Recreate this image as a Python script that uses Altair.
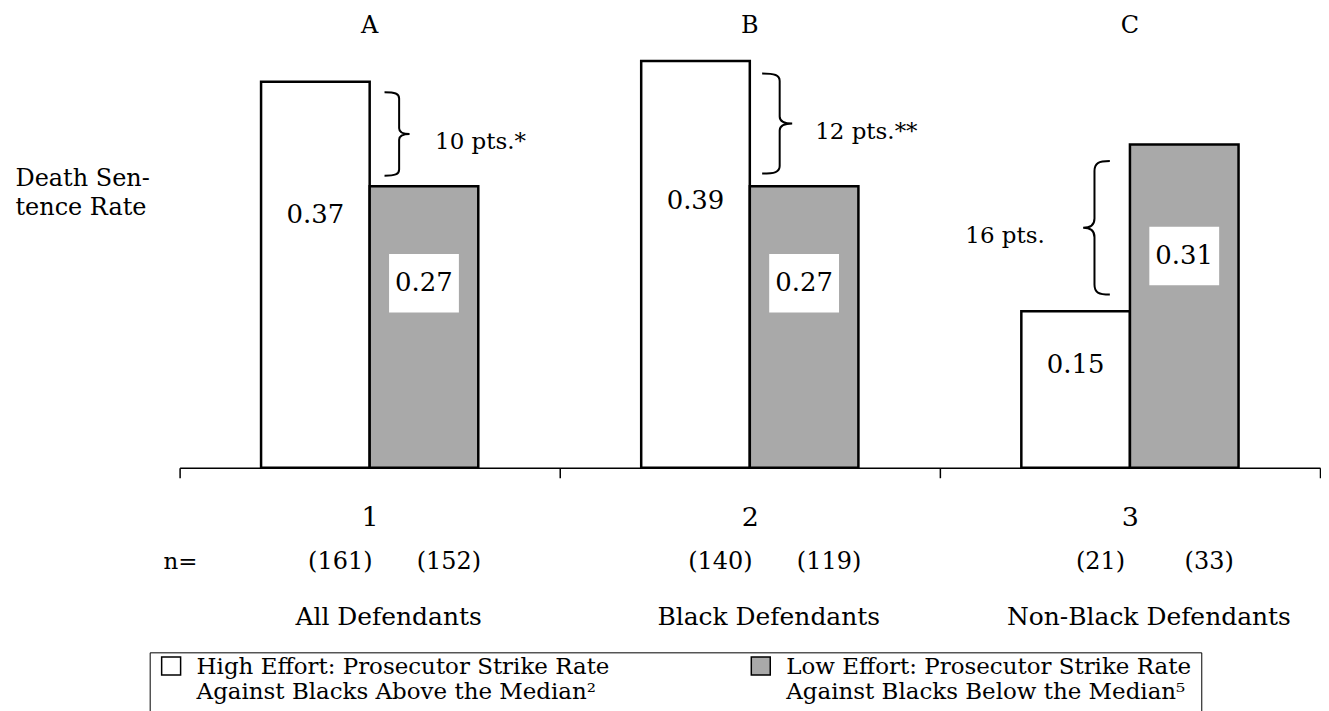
import json
import altair as alt
import pandas as pd

# ---------------- data ----------------
groups = ["1", "2", "3"]
letters = ["A", "B", "C"]
group_names = ["All Defendants", "Black Defendants", "Non-Black Defendants"]
high_rate = [0.37, 0.39, 0.15]
low_rate = [0.27, 0.27, 0.31]
high_n = [161, 140, 21]
low_n = [152, 119, 33]
diff_labels = ["10 pts.*", "12 pts.**", "16 pts."]
effort_keys = ["High", "Low"]
legend_high = ["High Effort: Prosecutor Strike Rate", "Against Blacks Above the Median\u00b2"]
legend_low = ["Low Effort: Prosecutor Strike Rate", "Against Blacks Below the Median\u2075"]
n_prefix = "n="

# ---------------- layout constants ----------------
FONT = "DejaVu Serif"
W, H = 1143, 460
YMAX = 0.44
PX = H / YMAX
GREY = "#a9a9a9"

bars = pd.DataFrame(
    [{"group": g, "effort": "High", "rate": r, "n": f"({n})"} for g, r, n in zip(groups, high_rate, high_n)]
    + [{"group": g, "effort": "Low", "rate": r, "n": f"({n})"} for g, r, n in zip(groups, low_rate, low_n)]
)
grp = pd.DataFrame({"group": groups, "letter": letters, "name": group_names})
braces = pd.DataFrame({
    "group": groups,
    "lo": [min(a, b) for a, b in zip(high_rate, low_rate)],
    "hi": [max(a, b) for a, b in zip(high_rate, low_rate)],
    "label": diff_labels,
    "side": ["right" if a > b else "left" for a, b in zip(high_rate, low_rate)],
})
nrow = pd.DataFrame({"group": [groups[0]], "t": [n_prefix]})

RIGHT_BRACE = ("M -0.3,-1 C -0.05,-1 0.05,-0.97 0.05,-0.85 L 0.05,-0.14 "
               "C 0.05,-0.04 0.15,0 0.3,0 C 0.15,0 0.05,0.04 0.05,0.14 L 0.05,0.85 "
               "C 0.05,0.97 -0.05,1 -0.3,1")
LEFT_BRACE = ("M 0.2,-1 C 0.03,-1 -0.03,-0.97 -0.03,-0.85 L -0.03,-0.14 "
              "C -0.03,-0.04 -0.1,0 -0.2,0 C -0.1,0 -0.03,0.04 -0.03,0.14 L -0.03,0.85 "
              "C -0.03,0.97 0.03,1 0.2,1")
BOX = "M -1,-0.84 L 1,-0.84 L 1,0.84 L -1,0.84 Z"
LEG_SYM = "M -1,-1.8 L 1,-1.8 L 1,0.1 L -1,0.1 Z"

xscale = alt.Scale(paddingInner=0, paddingOuter=0)
offscale = alt.Scale(domain=effort_keys, paddingInner=0, paddingOuter=0.75)
yscale = alt.Scale(domain=[0, YMAX], nice=False, zero=True)

label_expr = ("datum.value == 'High' ? " + json.dumps(legend_high) + " : " + json.dumps(legend_low))

x_axis = alt.Axis(title=None, labelAngle=0, labelFontSize=27, labelFont=FONT, labelColor="black",
                  labelPadding=40, labelBaseline="middle", domainColor="black", domainWidth=1.5,
                  tickColor="black", tickWidth=1.5, tickSize=10, tickBand="extent", grid=False)
y_axis = alt.Axis(title=["Death Sen-", "tence Rate"], titleAngle=0, titleAlign="left",
                  titleBaseline="alphabetic", titleX=-165, titleY=177, titleFontSize=24,
                  titleFont=FONT, titleFontWeight="normal", titleLineHeight=29, titleColor="black",
                  labels=False, ticks=False, domain=False, grid=False)


def X(**kw):
    return alt.X("group:N", scale=xscale, axis=x_axis, **kw)


def Y(field):
    return alt.Y(field, scale=yscale, axis=y_axis)


XO = alt.XOffset("effort:N", scale=offscale)

bar_layer = alt.Chart(bars).mark_bar(stroke="black", strokeWidth=2.5).encode(
    x=X(),
    xOffset=XO,
    y=Y("rate:Q"),
    fill=alt.Fill("effort:N", scale=alt.Scale(domain=effort_keys, range=["white", GREY]),
                  legend=alt.Legend(title=None, orient="none", legendX=-30, legendY=645,
                                    direction="horizontal", columns=2, columnPadding=139,
                                    symbolType=LEG_SYM, symbolSize=361, symbolStrokeColor="black",
                                    symbolStrokeWidth=1.5, labelFont=FONT, labelFontSize=23,
                                    labelBaseline="alphabetic", labelOffset=14,
                                    labelLimit=1000, labelColor="black", strokeColor="black",
                                    padding=10, labelExpr=label_expr)),
)

label_base = alt.Chart(bars).transform_calculate(pos="datum.rate * 0.655")

box_layer = label_base.transform_filter("datum.effort == 'Low'").mark_point(
    shape=BOX, size=4900, filled=True, color="white", opacity=1, strokeWidth=0
).encode(x=X(), xOffset=XO, y=Y("pos:Q"))

value_layer = label_base.mark_text(font=FONT, fontSize=26, color="black", baseline="middle").encode(
    x=X(), xOffset=XO, y=Y("pos:Q"),
    text=alt.Text("rate:Q", format=".2f"),
)

n_layer = alt.Chart(bars).mark_text(font=FONT, fontSize=24, color="black", baseline="middle", dx=25).encode(
    x=X(), xOffset=XO, y=alt.value(554), text="n:N",
)

nprefix_layer = alt.Chart(nrow).mark_text(font=FONT, fontSize=23, color="black", baseline="middle",
                                          align="right", dx=18).encode(
    x=X(bandPosition=0), y=alt.value(554), text="t:N",
)

letter_layer = alt.Chart(grp).mark_text(font=FONT, fontSize=24, color="black", baseline="middle").encode(
    x=X(), y=alt.value(17), text="letter:N",
)

name_layer = alt.Chart(grp).mark_text(font=FONT, fontSize=25, color="black", baseline="middle", dx=19).encode(
    x=X(), y=alt.value(610), text="name:N",
)

brace_base = alt.Chart(braces).transform_calculate(
    mid="(datum.hi + datum.lo) / 2",
    sz=f"pow((datum.hi - datum.lo) * {PX} * 0.8, 2)",
)

rb = brace_base.transform_filter("datum.side == 'right'")
lb = brace_base.transform_filter("datum.side == 'left'")

rbrace = rb.mark_point(shape=RIGHT_BRACE, filled=False, stroke="black", strokeWidth=2, opacity=1).encode(
    x=X(bandPosition=0.572), y=Y("mid:Q"),
    size=alt.Size("sz:Q", scale=None, legend=None),
)
lbrace = lb.mark_point(shape=LEFT_BRACE, filled=False, stroke="black", strokeWidth=2, opacity=1).encode(
    x=X(bandPosition=0.412), y=Y("mid:Q"),
    size=alt.Size("sz:Q", scale=None, legend=None),
)
rtext = rb.mark_text(font=FONT, fontSize=23, color="black", align="left", baseline="middle", dy=8).encode(
    x=X(bandPosition=0.672), y=Y("mid:Q"), text="label:N",
)
ltext = lb.mark_text(font=FONT, fontSize=23, color="black", align="right", baseline="middle", dy=8).encode(
    x=X(bandPosition=0.276), y=Y("mid:Q"), text="label:N",
)

chart = alt.layer(
    bar_layer, box_layer, value_layer, n_layer, nprefix_layer, letter_layer, name_layer,
    rbrace, lbrace, rtext, ltext,
).properties(
    width=W, height=H, padding={"left": 7, "top": 0, "right": 0, "bottom": 0}, background="white"
).configure_view(stroke=None)

chart.save("out.html", embed_options={"renderer": "svg", "actions": False})
